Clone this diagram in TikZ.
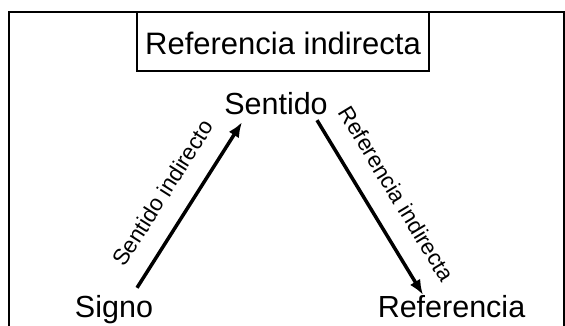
\documentclass[tikz,border=0pt]{standalone}
\usepackage{fontspec}
\setmainfont{Liberation Sans}
\usetikzlibrary{arrows.meta}
\tikzset{
  frameline/.style={line width=2pt, draw=black},
  bigtext/.style={font=\fontsize{30.5}{36}\selectfont, inner sep=0pt, text height=22pt, text depth=0pt, anchor=base},
  titlebox/.style={draw=black, line width=2pt, font=\fontsize{31}{37}\selectfont, inner sep=0pt, minimum width=292pt, minimum height=58.5pt, text height=26pt, text depth=0pt, fill=white},
  arr/.style={line width=3.5pt, -{Latex[length=15pt,width=12pt]}},
  lbl/.style={font=\fontsize{22.5}{27}\selectfont, inner sep=0pt, sloped, midway}
}
\begin{document}
\begin{tikzpicture}[x=1pt,y=-1pt]
\useasboundingbox (0,0) rectangle (565,326);
\draw[frameline] (9,326) -- (9,12) -- (564,12) -- (564,326);
\node[titlebox] (title) at (283,41.75) {Referencia indirecta};
\node[bigtext] (signo) at (114,317) {Signo};
\node[bigtext] (sentido) at (276,115) {Sentido};
\node[bigtext] (ref) at (451.5,317) {Referencia};
\draw[arr] ([shift={(23,-7)}]signo.north) -- node[lbl, above=19pt, anchor=south, pos=0.48] {Sentido indirecto} ([shift={(-34,7)}]sentido.south);
\draw[arr] ([shift={(41,5)}]sentido.south) -- node[lbl, above=20pt, anchor=south, pos=0.51] {Referencia indirecta} ([shift={(-28.5,0)}]ref.north);
\end{tikzpicture}
\end{document}
